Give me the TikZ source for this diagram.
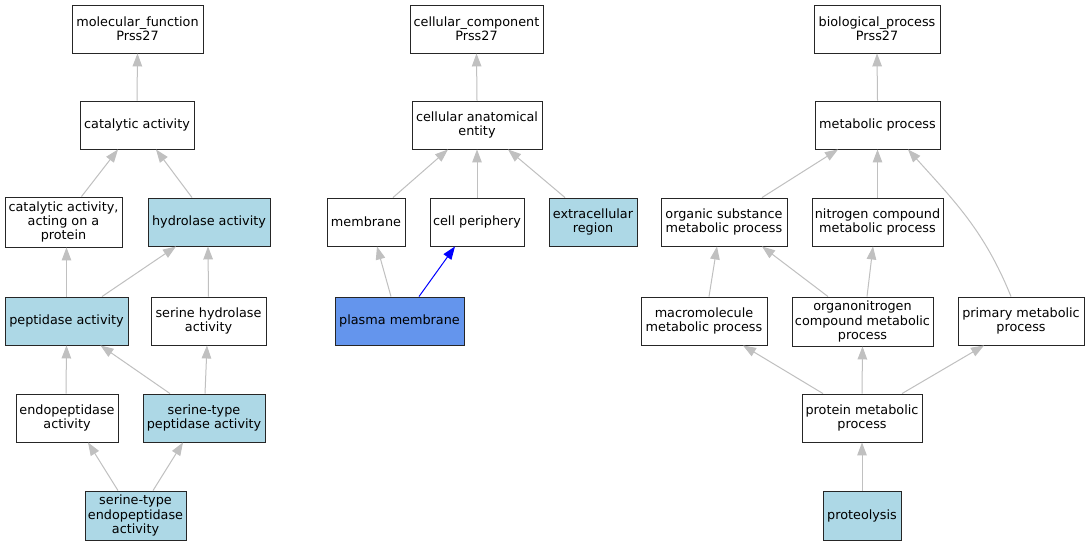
\documentclass[tikz,border=0pt]{standalone}
\usepackage{fontspec}
\setmainfont{DejaVu Sans}
\usetikzlibrary{arrows.meta}
\definecolor{edgegray}{HTML}{C0C0C0}
\definecolor{termblue}{HTML}{ADD8E6}
\definecolor{hiblue}{HTML}{6495ED}
\begin{document}
\begin{tikzpicture}[x=1pt,y=-1pt,
  box/.style={draw=black!85, line width=0.9pt, fill=white, minimum height=48pt,
    inner sep=0pt, align=center, font=\fontsize{12.8}{14.2}\selectfont},
  hl/.style={box, fill=termblue},
  hl2/.style={box, fill=hiblue},
  isa/.style={draw=edgegray, line width=1pt, -{Triangle[length=13pt,width=9.5pt]}},
  isablue/.style={isa, draw=blue, -{Triangle[length=13pt,width=9.5pt,fill=blue]}}]
\useasboundingbox (0,0) rectangle (1089,547);
\fill[white] (0,0) rectangle (1089,547);
% left: molecular function
\node[box, minimum width=131pt] (mf) at (137.5,29) {molecular\_function\\Prss27};
\node[box, minimum width=114pt] (ca) at (137,125) {catalytic activity};
\node[box, minimum width=117pt, minimum height=50pt] (cap) at (63.5,222) {catalytic activity,\\acting on a\\protein};
\node[hl, minimum width=122pt] (hyd) at (209,222) {hydrolase activity};
\node[hl, minimum width=123pt] (pep) at (66.5,321) {peptidase activity};
\node[box, minimum width=115pt] (sh) at (208.5,321) {serine hydrolase\\activity};
\node[box, minimum width=102pt] (endo) at (67,418) {endopeptidase\\activity};
\node[hl, minimum width=122pt] (stp) at (204,418) {serine-type\\peptidase activity};
\node[hl, minimum width=101pt, minimum height=49pt] (ste) at (135.5,515.5) {serine-type\\endopeptidase\\activity};
% middle: cellular component
\node[box, minimum width=133pt] (cc) at (476.5,29) {cellular\_component\\Prss27};
\node[box, minimum width=130pt] (cae) at (477,125) {cellular anatomical\\entity};
\node[box, minimum width=78pt] (mem) at (366,222) {membrane};
\node[box, minimum width=94pt] (cp) at (477,222) {cell periphery};
\node[hl, minimum width=88pt] (ecr) at (593,222) {extracellular\\region};
\node[hl2, minimum width=129pt] (pm) at (399.5,321) {plasma membrane};
% right: biological process
\node[box, minimum width=126pt] (bp) at (877,29) {biological\_process\\Prss27};
\node[box, minimum width=125pt] (mp) at (877.5,125) {metabolic process};
\node[box, minimum width=126pt] (osm) at (724,222) {organic substance\\metabolic process};
\node[box, minimum width=131pt] (ncm) at (877.5,222) {nitrogen compound\\metabolic process};
\node[box, minimum width=126pt] (mmp) at (704,321) {macromolecule\\metabolic process};
\node[box, minimum width=141pt, minimum height=49pt] (onc) at (862.5,321.5) {organonitrogen\\compound metabolic\\process};
\node[box, minimum width=126pt] (pmp) at (1021,321) {primary metabolic\\process};
\node[box, minimum width=120pt] (prm) at (862,418) {protein metabolic\\process};
\node[hl, minimum width=78pt, minimum height=49pt] (prot) at (862,515.5) {proteolysis};
% edges left
\draw[isa] (ca.north) -- (mf.south);
\draw[isa] ([xshift=18pt]cap.north) -- ([xshift=-19pt]ca.south);
\draw[isa] ([xshift=-17pt]hyd.north) -- ([xshift=19pt]ca.south);
\draw[isa] (pep.north) -- ([xshift=3pt]cap.south);
\draw[isa] ([xshift=35.5pt]pep.north) -- ([xshift=-33pt]hyd.south);
\draw[isa] (sh.north) -- ([xshift=-1pt]hyd.south);
\draw[isa] ([xshift=-1pt]endo.north) -- (pep.south);
\draw[isa] ([xshift=-34pt]stp.north) -- ([xshift=34pt]pep.south);
\draw[isa] ([xshift=1pt]stp.north) -- ([xshift=-1.5pt]sh.south);
\draw[isa] ([xshift=-17.5pt]ste.north) -- ([xshift=21pt]endo.south);
\draw[isa] ([xshift=17.5pt]ste.north) -- ([xshift=-21pt]stp.south);
% edges middle
\draw[isa] (cae.north) -- (cc.south);
\draw[isa] ([xshift=27pt]mem.north) -- ([xshift=-29pt]cae.south);
\draw[isa] (cp.north) -- (cae.south);
\draw[isa] ([xshift=-28pt]ecr.north) -- ([xshift=31pt]cae.south);
\draw[isa] ([xshift=-8.5pt]pm.north) -- ([xshift=11pt]mem.south);
\draw[isablue] ([xshift=19.5pt]pm.north) -- ([xshift=-22pt]cp.south);
% edges right
\draw[isa] (mp.north) -- (bp.south);
\draw[isa] ([xshift=38pt]osm.north) -- ([xshift=-39.5pt]mp.south);
\draw[isa] (ncm.north) -- (mp.south);
\draw[isa] ([xshift=-10pt]pmp.north) to[out=112,in=-48] ([xshift=30.5pt]mp.south);
\draw[isa] ([xshift=5pt]mmp.north) -- ([xshift=-7pt]osm.south);
\draw[isa] ([xshift=-34.5pt]onc.north) -- ([xshift=38pt]osm.south);
\draw[isa] ([xshift=4.5pt]onc.north) -- ([xshift=-4.5pt]ncm.south);
\draw[isa] ([xshift=-39pt]prm.north) -- ([xshift=39pt]mmp.south);
\draw[isa] (prm.north) -- (onc.south);
\draw[isa] ([xshift=40pt]prm.north) -- ([xshift=-37pt]pmp.south);
\draw[isa] (prot.north) -- (prm.south);
\end{tikzpicture}
\end{document}
